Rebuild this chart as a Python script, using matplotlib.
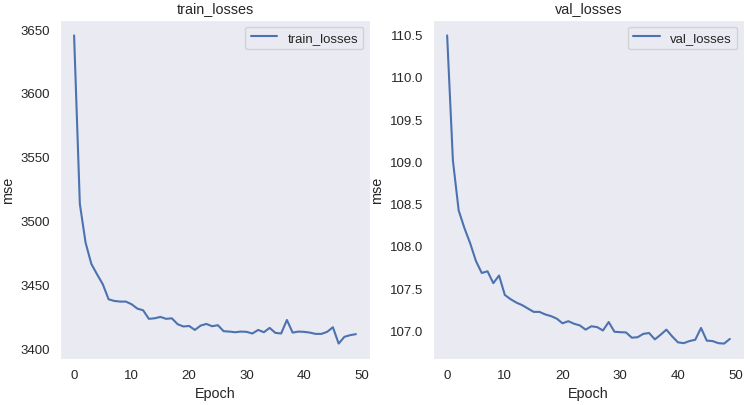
import numpy as np
import matplotlib
matplotlib.use("Agg")
import matplotlib.pyplot as plt
import seaborn as sns

epochs = np.arange(50)

train_losses = [3645, 3513, 3482.6, 3466, 3457.8, 3450, 3438.3, 3437, 3436.5, 3436.5,
                3434.4, 3431, 3429.7, 3423, 3423.4, 3424.5, 3423, 3423.4, 3418.8, 3417,
                3417.4, 3414.3, 3417.7, 3419, 3417.2, 3418, 3413.3, 3413, 3412.5, 3413,
                3412.8, 3411.5, 3414.3, 3412.5, 3415.9, 3412, 3411.5, 3422.1, 3412.2, 3413,
                3412.8, 3412.2, 3411.2, 3411.2, 3412.8, 3416.4, 3403.6, 3408.9, 3410.2, 3411]

val_losses = [110.49, 109.01, 108.42, 108.21, 108.03, 107.82, 107.68, 107.70, 107.56, 107.65,
              107.42, 107.37, 107.33, 107.30, 107.26, 107.22, 107.22, 107.19, 107.17, 107.14,
              107.085, 107.11, 107.08, 107.06, 107.01, 107.05, 107.04, 107.0, 107.10, 106.985,
              106.98, 106.977, 106.915, 106.92, 106.96, 106.97, 106.895, 106.95, 107.01, 106.93,
              106.86, 106.85, 106.875, 106.89, 107.03, 106.88, 106.875, 106.85, 106.845, 106.90]

sns.set_style("dark")
plt.rcParams['font.family'] = ['Liberation Sans', 'DejaVu Sans']

fig = plt.figure(figsize=(7.47, 4.06), dpi=100)
W, H = 747, 406
ax1 = fig.add_axes([60 / W, 46 / H, 310 / W, 339 / H])
ax2 = fig.add_axes([433 / W, 46 / H, 311 / W, 339 / H])

for ax, vals, name in [(ax1, train_losses, "train_losses"), (ax2, val_losses, "val_losses")]:
    ax.plot(epochs, vals, color="#4C72B0", lw=1.5, label=name)
    ax.set_title(name, fontsize=10.4, color="#262626")
    ax.set_xlabel("Epoch", fontsize=10.4, color="#262626")
    ax.set_ylabel("mse", fontsize=10.4, color="#262626")
    ax.tick_params(labelsize=9.5, colors="#262626")
    ax.set_xticks([0, 10, 20, 30, 40, 50])
    ax.legend(loc="upper right", fontsize=9.5)

ax1.set_yticks([3400, 3450, 3500, 3550, 3600, 3650])
ax2.set_yticks([107.0, 107.5, 108.0, 108.5, 109.0, 109.5, 110.0, 110.5])

plt.savefig("out.png", dpi=100)
